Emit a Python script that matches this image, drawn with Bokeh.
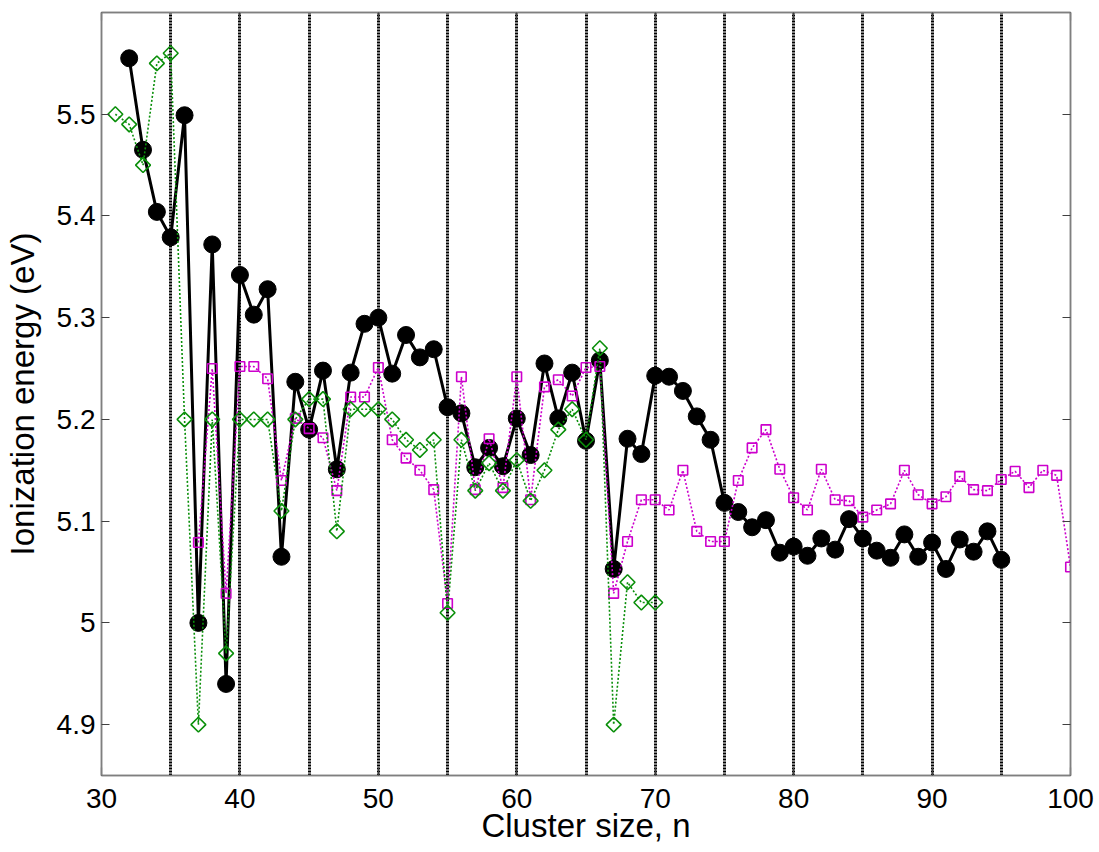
import math
from bokeh.plotting import figure
from bokeh.models import (ColumnDataSource, Range1d, FixedTicker, LinearAxis)
from bokeh.embed import file_html
from bokeh.resources import INLINE

# ---------------- data ----------------
n_black = list(range(32, 96))
ie_black = [5.555, 5.465, 5.404, 5.379, 5.499, 5.000, 5.372, 4.940, 5.342, 5.303,
            5.328, 5.065, 5.237, 5.190, 5.248, 5.151, 5.246, 5.294, 5.300, 5.245,
            5.283, 5.261, 5.269, 5.212, 5.206, 5.153, 5.172, 5.154, 5.201, 5.165,
            5.255, 5.201, 5.246, 5.179, 5.258, 5.053, 5.181, 5.166, 5.243, 5.242,
            5.228, 5.203, 5.180, 5.118, 5.109, 5.094, 5.101, 5.069, 5.075, 5.066,
            5.083, 5.072, 5.102, 5.083, 5.071, 5.064, 5.087, 5.065, 5.079, 5.053,
            5.082, 5.070, 5.090, 5.062]

n_magenta = list(range(37, 101))
ie_magenta = [5.079, 5.250, 5.029, 5.252, 5.252, 5.240, 5.140, 5.201, 5.191, 5.182,
              5.130, 5.222, 5.222, 5.251, 5.180, 5.162, 5.150, 5.131, 5.019, 5.242,
              5.131, 5.181, 5.133, 5.242, 5.121, 5.232, 5.239, 5.223, 5.251, 5.252,
              5.029, 5.080, 5.121, 5.121, 5.111, 5.150, 5.090, 5.080, 5.080, 5.140,
              5.172, 5.190, 5.151, 5.123, 5.111, 5.151, 5.121, 5.120, 5.104, 5.111,
              5.117, 5.150, 5.126, 5.117, 5.124, 5.144, 5.131, 5.130, 5.141, 5.149,
              5.133, 5.150, 5.145, 5.055]

n_green = list(range(31, 71))
ie_green = [5.50, 5.49, 5.45, 5.55, 5.56, 5.20, 4.90, 5.20, 4.97, 5.20,
            5.20, 5.20, 5.11, 5.20, 5.22, 5.22, 5.09, 5.21, 5.21, 5.21,
            5.20, 5.18, 5.17, 5.18, 5.01, 5.18, 5.13, 5.157, 5.13, 5.16,
            5.12, 5.15, 5.19, 5.21, 5.18, 5.27, 4.90, 5.04, 5.02, 5.02]

x_ticks = [30, 40, 50, 60, 70, 80, 90, 100]
y_ticks = [4.9, 5.0, 5.1, 5.2, 5.3, 5.4, 5.5]
shell_lines = [35, 40, 45, 50, 55, 60, 65, 70, 75, 80, 85, 90, 95, 100]

# ---------------- figure ----------------
FONT = "Liberation Sans"
FRAME = "#7f7f7f"

p = figure(width=1098, height=850, output_backend="svg", toolbar_location=None,
           x_range=Range1d(30, 100), y_range=Range1d(4.85, 5.6),
           min_border_left=101, min_border_right=28, min_border_top=12,
           min_border_bottom=75)
p.background_fill_color = "white"
p.border_fill_color = "white"
p.outline_line_color = FRAME
p.outline_line_width = 1.5

# grid: vertical dotted lines at every 5
p.xgrid.ticker = FixedTicker(ticks=shell_lines)
p.xgrid.grid_line_color = "black"
p.xgrid.grid_line_width = 3
p.xgrid.grid_line_dash = "2 1"
p.ygrid.grid_line_color = None

def style_axis(ax, ticks, show_labels=True):
    ax.ticker = FixedTicker(ticks=ticks)
    ax.axis_line_color = FRAME
    ax.axis_line_width = 1.5
    ax.major_tick_line_color = "#404040"
    ax.major_tick_line_width = 1.2
    ax.major_tick_in = 8
    ax.major_tick_out = 0
    ax.minor_tick_line_color = None
    ax.major_label_text_font = FONT
    if show_labels:
        ax.major_label_text_color = "black"
        ax.major_label_text_font_size = "28px"
    else:
        ax.major_label_text_color = None
        ax.major_label_text_font_size = "1px"
        ax.major_label_standoff = 0

style_axis(p.xaxis[0], x_ticks)
style_axis(p.yaxis[0], y_ticks)
p.xaxis[0].major_label_standoff = 13
p.xaxis[0].axis_label = "Cluster size, n"
p.xaxis[0].axis_label_text_font = FONT
p.xaxis[0].axis_label_text_font_size = "33px"
p.xaxis[0].axis_label_text_font_style = "normal"
p.xaxis[0].axis_label_text_color = "black"
p.xaxis[0].axis_label_standoff = -4

p.yaxis[0].major_label_standoff = 6
p.yaxis[0].major_label_overrides = {5: "5"}
p.yaxis[0].axis_label = "Ionization energy (eV)"
p.yaxis[0].axis_label_text_font = FONT
p.yaxis[0].axis_label_text_font_size = "33px"
p.yaxis[0].axis_label_text_font_style = "normal"
p.yaxis[0].axis_label_text_color = "black"
p.yaxis[0].axis_label_standoff = 13

right_ax = LinearAxis()
style_axis(right_ax, y_ticks, show_labels=False)
p.add_layout(right_ax, "right")
top_ax = LinearAxis()
style_axis(top_ax, x_ticks, show_labels=False)
p.add_layout(top_ax, "above")

# ---------------- series ----------------
src_b = ColumnDataSource(dict(n=n_black, ie=ie_black))
src_m = ColumnDataSource(dict(n=n_magenta, ie=ie_magenta))
src_g = ColumnDataSource(dict(n=n_green, ie=ie_green))

p.line("n", "ie", source=src_b, line_color="black", line_width=3)
p.scatter("n", "ie", source=src_b, marker="circle", size=17,
          fill_color="black", line_color="black")

MAG = "#cc00cc"
p.line("n", "ie", source=src_m, line_color=MAG, line_width=1.6, line_dash="2 2")
p.scatter("n", "ie", source=src_m, marker="square", size=9.5,
          fill_color=None, line_color=MAG, line_width=1.6)

GRN = "#0a8f0a"
p.line("n", "ie", source=src_g, line_color=GRN, line_width=1.6, line_dash="2 2")
p.scatter("n", "ie", source=src_g, marker="square", size=10.5, angle=math.pi / 4,
          fill_color=None, line_color=GRN, line_width=1.6)

open("out.html", "w").write(file_html(p, INLINE))
